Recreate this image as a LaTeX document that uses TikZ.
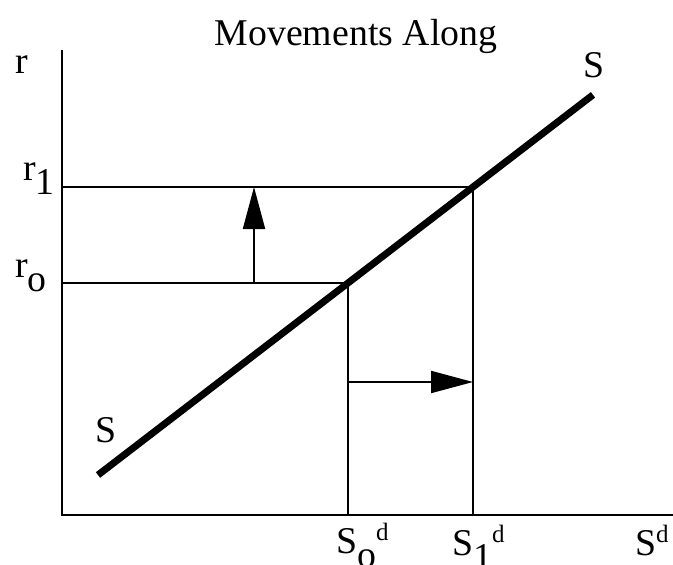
\documentclass[tikz,border=0pt]{standalone}
\usepackage{fontspec}
\setmainfont{Liberation Serif}
\usetikzlibrary{arrows.meta,calc,positioning}
\newcommand{\lowered}[1]{\raisebox{-14pt}{#1}}
\newcommand{\raised}[1]{\raisebox{13pt}{\fontsize{25}{26}\selectfont #1}}

\begin{document}
\begin{tikzpicture}[x=1pt,y=-1pt,
  axisline/.style={line width=2pt},
  guide/.style={line width=2pt},
  supply/.style={line width=7pt},
  move/.style={line width=2pt,-{Triangle[length=42pt,width=22pt]}},
  lbl/.style={inner sep=0pt,anchor=base west,font=\fontsize{37.8}{40}\selectfont}]
\useasboundingbox (0,0) rectangle (673,565);
\coordinate (ytop) at (62,50);
\coordinate (orig) at (62,515);
\coordinate (xend) at (673,515);
\coordinate (eq0) at (348,283);
\coordinate (eq1) at (473,187);
\coordinate (pr0) at (62,283);
\coordinate (pr1) at (62,187);
\coordinate (q0) at (348,515);
\coordinate (q1) at (473,515);
\coordinate (sbot) at ($(eq0)!-2!(eq1)$);
\coordinate (stop) at ($(eq0)!1.96!(eq1)$);
\coordinate (up0) at (254,283);
\coordinate (up1) at (254,187);
\coordinate (rt0) at (348,382);
\coordinate (rt1) at (473,382);

\node[lbl,anchor=base] (title) at (356,45) {Movements Along};
\node[lbl] (rlab) at (15,73) {r};
\node[lbl] (r1lab) at (23,180) {r\lowered{1}};
\node[lbl] (r0lab) at (15,277) {r\lowered{o}};
\node[lbl] (slow) at (95,442) {S};
\node[lbl] (shigh) at (583,77) {S};
\node[lbl] (s0lab) at (336,553) {S\lowered{o}\raised{d}};
\node[lbl] (s1lab) at (452,555) {S\lowered{1}\raised{d}};
\node[lbl] (sdlab) at (635,555) {S\raised{d}};

\draw[axisline] (ytop) -- (orig) -- (xend);
\draw[guide] (pr1) -- (eq1) -- (q1);
\draw[guide] (pr0) -- (eq0) -- (q0);
\draw[supply] (sbot) -- (stop);
\draw[move] (up0) -- (up1);
\draw[move] (rt0) -- (rt1);
\end{tikzpicture}
\end{document}
